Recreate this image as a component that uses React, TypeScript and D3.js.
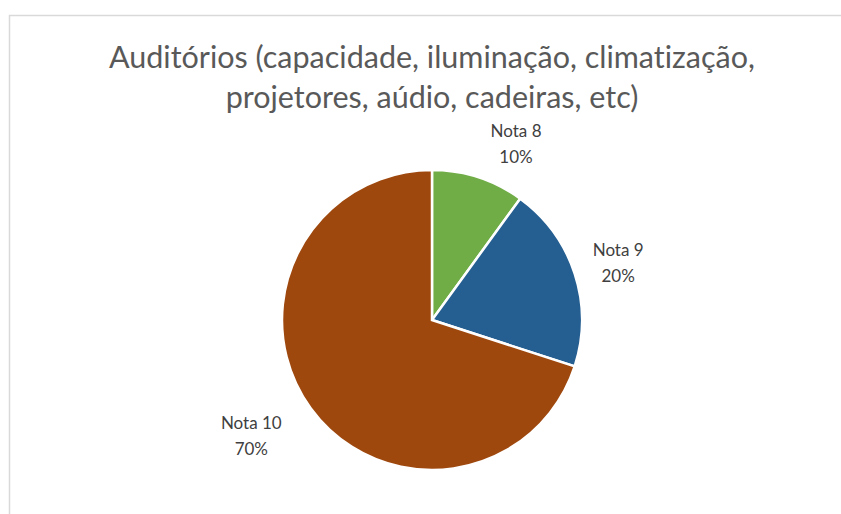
import React from "react";
import * as d3 from "d3";

const categories = ["Nota 8", "Nota 9", "Nota 10"];
const values = [10, 20, 70];
const colors = ["#70AD47", "#255E91", "#9E480E"];
const titleLines = ["Auditórios (capacidade, iluminação, climatização,", "projetores, aúdio, cadeiras, etc)"];

const W = 841;
const H = 514;

export default function App() {
  const cx = 432;
  const cy = 320;
  const r = 150;
  const pie = d3.pie<number>().sort(null).value((d) => d);
  const arcs = pie(values);
  const arc = d3.arc<d3.PieArcDatum<number>>().innerRadius(0).outerRadius(r);
  const total = d3.sum(values);
  // Excel best-fit label placement: radius and angle nudges
  const labelR = [196, 195, 214];
  const angleShift = [0.129, 0.012, 0.063];
  return (
    <svg width={W} height={H} style={{ position: "absolute", left: 0, top: 0, background: "#fff" }}>
      <rect x={9.5} y={15.5} width={W} height={H} fill="#fff" stroke="#D9D9D9" strokeWidth={1.5} />
      <g fontFamily="Lato, sans-serif" fill="#595959" fontSize={30.5} textAnchor="middle" style={{ fontVariantLigatures: "none" }}>
        {titleLines.map((t, i) => (
          <text key={i} x={432} y={68 + i * 40}>{t}</text>
        ))}
      </g>
      <g transform={`translate(${cx},${cy})`}>
        {arcs.map((a, i) => (
          <path key={i} d={arc(a) || ""} fill={colors[i]} stroke="#fff" strokeWidth={2.5} />
        ))}
        {arcs.map((a, i) => {
          const mid = (a.startAngle + a.endAngle) / 2 + angleShift[i];
          const x = Math.sin(mid) * labelR[i];
          const y = -Math.cos(mid) * labelR[i];
          return (
            <text key={i} x={x} y={y} textAnchor="middle" fontFamily="Lato, sans-serif" fontSize={17} fill="#404040">
              <tspan x={x} dy={-6}>{categories[i]}</tspan>
              <tspan x={x} dy={26}>{`${Math.round((values[i] / total) * 100)}%`}</tspan>
            </text>
          );
        })}
      </g>
    </svg>
  );
}
